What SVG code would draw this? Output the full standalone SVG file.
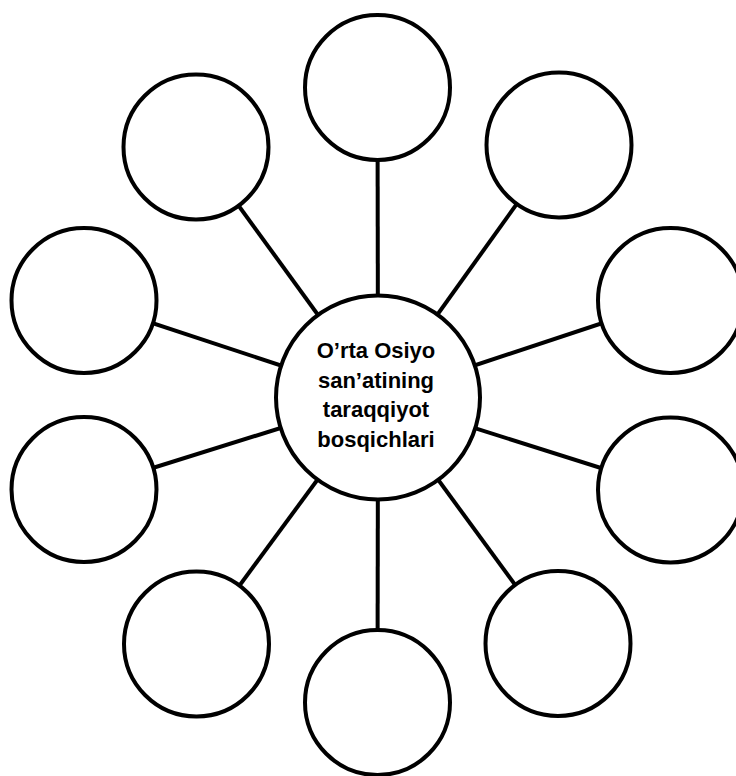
<svg xmlns="http://www.w3.org/2000/svg" width="736" height="776" viewBox="0 0 736 776">
<style>
.c{fill:#fff;stroke:#000;stroke-width:4}
.l{stroke:#000;stroke-width:4;fill:none}
.t{font-family:"Liberation Sans",Arial,sans-serif;font-weight:bold;font-size:22px;fill:#000;text-anchor:middle}
</style>
<rect width="736" height="776" fill="#fff"/>
<g id="connectors">
<line class="l" x1="378" y1="397.5" x2="377.5" y2="87.5"/>
<line class="l" x1="378" y1="397.5" x2="559" y2="145"/>
<line class="l" x1="378" y1="397.5" x2="670.5" y2="300.5"/>
<line class="l" x1="378" y1="397.5" x2="670.5" y2="490"/>
<line class="l" x1="378" y1="397.5" x2="558" y2="643.5"/>
<line class="l" x1="378" y1="397.5" x2="377.5" y2="702.5"/>
<line class="l" x1="378" y1="397.5" x2="196.5" y2="644"/>
<line class="l" x1="378" y1="397.5" x2="84" y2="489.5"/>
<line class="l" x1="378" y1="397.5" x2="84" y2="300.5"/>
<line class="l" x1="378" y1="397.5" x2="196" y2="147"/>
</g>
<g id="n-top"><circle class="c" cx="377.5" cy="87.5" r="72.5"/></g>
<g id="n-top-right"><circle class="c" cx="559" cy="145" r="72.5"/></g>
<g id="n-right-upper"><circle class="c" cx="670.5" cy="300.5" r="72.5"/></g>
<g id="n-right-lower"><circle class="c" cx="670.5" cy="490" r="72.5"/></g>
<g id="n-bottom-right"><circle class="c" cx="558" cy="643.5" r="72.5"/></g>
<g id="n-bottom"><circle class="c" cx="377.5" cy="702.5" r="72.5"/></g>
<g id="n-bottom-left"><circle class="c" cx="196.5" cy="644" r="72.5"/></g>
<g id="n-left-lower"><circle class="c" cx="84" cy="489.5" r="72.5"/></g>
<g id="n-left-upper"><circle class="c" cx="84" cy="300.5" r="72.5"/></g>
<g id="n-top-left"><circle class="c" cx="196" cy="147" r="72.5"/></g>
<g id="n-center">
<circle class="c" cx="378" cy="397.5" r="102"/>
<text class="t" x="376" y="358">O’rta Osiyo</text>
<text class="t" x="376" y="387.5">san’atining</text>
<text class="t" x="376" y="417">taraqqiyot</text>
<text class="t" x="376" y="446.5">bosqichlari</text>
</g>
</svg>
